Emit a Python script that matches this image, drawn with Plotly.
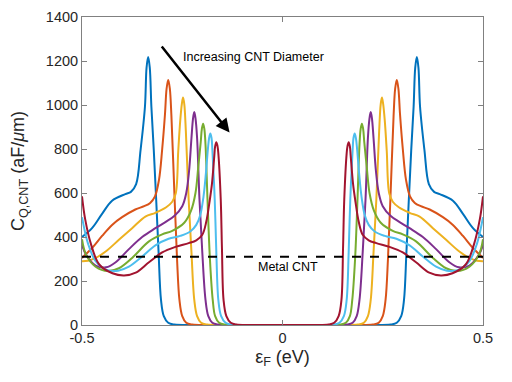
import plotly.graph_objects as go

# Positive-energy half of each curve (chart is symmetric about eF = 0)
names = ["d1", "d2", "d3", "d4", "d5", "d6", "d7"]
colors = ["#0072BD", "#D95319", "#EDB120", "#7E2F8E", "#77AC30", "#4DBEEE", "#A2142F"]

blue_x = [0, 0.20, 0.270, 0.285, 0.296, 0.303, 0.309, 0.315, 0.321, 0.327, 0.331, 0.335, 0.339, 0.343, 0.354, 0.365, 0.378, 0.392, 0.425, 0.450, 0.475, 0.5]
blue_y = [0, 0, 2, 10, 40, 114, 330, 569, 795, 993, 1170, 1218, 1170, 993, 795, 640, 605, 595, 565, 505, 440, 400]

orange_x = [0, 0.18, 0.225, 0.240, 0.250, 0.257, 0.263, 0.269, 0.277, 0.281, 0.285, 0.289, 0.293, 0.300, 0.308, 0.318, 0.330, 0.345, 0.367, 0.400, 0.425, 0.450, 0.475, 0.5]
orange_y = [0, 0, 2, 10, 40, 114, 300, 569, 950, 1075, 1114, 1075, 960, 800, 660, 585, 555, 540, 525, 490, 455, 405, 350, 305]

yellow_x = [0, 0.14, 0.188, 0.203, 0.213, 0.220, 0.227, 0.234, 0.241, 0.245, 0.248, 0.251, 0.255, 0.260, 0.266, 0.275, 0.290, 0.317, 0.342, 0.375, 0.408, 0.441, 0.466, 0.485, 0.5]
yellow_y = [0, 0, 2, 10, 40, 114, 330, 569, 880, 1005, 1034, 1005, 930, 790, 600, 560, 535, 510, 493, 440, 387, 334, 305, 292, 290]

purple_x = [0, 0.12, 0.160, 0.175, 0.185, 0.192, 0.200, 0.207, 0.213, 0.217, 0.220, 0.223, 0.227, 0.233, 0.240, 0.250, 0.270, 0.292, 0.317, 0.350, 0.383, 0.416, 0.440, 0.466, 0.490, 0.5]
purple_y = [0, 0, 2, 10, 40, 114, 330, 569, 850, 940, 968, 940, 850, 700, 600, 540, 495, 468, 440, 400, 345, 285, 262, 270, 320, 365]

green_x = [0, 0.10, 0.143, 0.158, 0.168, 0.174, 0.181, 0.187, 0.192, 0.195, 0.198, 0.201, 0.204, 0.210, 0.217, 0.228, 0.245, 0.275, 0.300, 0.333, 0.375, 0.408, 0.435, 0.466, 0.490, 0.5]
green_y = [0, 0, 2, 10, 40, 114, 300, 569, 820, 893, 915, 893, 830, 720, 600, 520, 465, 428, 412, 380, 305, 258, 245, 265, 320, 390]

cyan_x = [0, 0.09, 0.128, 0.142, 0.153, 0.160, 0.165, 0.169, 0.175, 0.177, 0.180, 0.183, 0.186, 0.191, 0.197, 0.205, 0.215, 0.230, 0.255, 0.284, 0.317, 0.350, 0.383, 0.410, 0.440, 0.466, 0.485, 0.5]
cyan_y = [0, 0, 2, 10, 40, 114, 330, 569, 800, 850, 870, 850, 800, 690, 584, 500, 455, 425, 405, 392, 362, 311, 265, 247, 252, 290, 370, 490]

maroon_x = [0, 0.08, 0.115, 0.129, 0.140, 0.147, 0.151, 0.154, 0.160, 0.162, 0.165, 0.168, 0.170, 0.176, 0.182, 0.190, 0.200, 0.215, 0.234, 0.267, 0.300, 0.333, 0.366, 0.395, 0.424, 0.457, 0.478, 0.492, 0.5]
maroon_y = [0, 0, 2, 10, 40, 114, 350, 569, 780, 812, 831, 812, 770, 640, 560, 470, 410, 385, 372, 355, 330, 285, 238, 225, 235, 275, 370, 480, 585]

xs = [blue_x, orange_x, yellow_x, purple_x, green_x, cyan_x, maroon_x]
ys = [blue_y, orange_y, yellow_y, purple_y, green_y, cyan_y, maroon_y]

metal_level = 310
x_ticks = [-0.5, 0, 0.5]
x_tick_text = ["-0.5", "0", "0.5"]
y_ticks = [0, 200, 400, 600, 800, 1000, 1200, 1400]

fig = go.Figure()
for name, c, hx, hy in zip(names, colors, xs, ys):
    fx = [-v for v in reversed(hx)] + hx[1:]
    fy = list(reversed(hy)) + hy[1:]
    fig.add_trace(go.Scatter(x=fx, y=fy, mode="lines", name=name,
                             line=dict(color=c, width=2, shape="spline", smoothing=1.0)))

fig.add_trace(go.Scatter(x=[-0.5, 0.5], y=[metal_level, metal_level], mode="lines",
                         line=dict(color="black", width=2, dash="dash")))

font_family = "Liberation Sans, Arial, sans-serif"
fig.add_annotation(x=-0.132, y=875, ax=-0.304, ay=1273, xref="x", yref="y", axref="x", ayref="y",
                   text="", showarrow=True, arrowhead=2, arrowsize=1.1, arrowwidth=2.5, arrowcolor="black")
fig.add_annotation(x=-0.254, y=1217, xref="x", yref="y", text="Increasing CNT Diameter",
                   showarrow=False, xanchor="left", yanchor="middle",
                   font=dict(family=font_family, size=12.5, color="black"))
fig.add_annotation(x=-0.067, y=264, xref="x", yref="y", text="Metal CNT",
                   showarrow=False, xanchor="left", yanchor="middle",
                   font=dict(family=font_family, size=12.5, color="black"))

axis_common = dict(showline=True, linecolor="#808080", linewidth=1, mirror="ticks",
                   ticks="inside", ticklen=5, tickcolor="#808080", showgrid=False, zeroline=False,
                   automargin=False,
                   tickfont=dict(family=font_family, size=14.5, color="#262626"))

# page body has an 8px default margin, so the figure is sized to fit inside the window
fig.update_layout(
    width=504, height=374,
    margin=dict(l=74, r=29, t=9, b=57),
    paper_bgcolor="white", plot_bgcolor="white",
    showlegend=False,
    font=dict(family=font_family),
    xaxis=dict(range=[-0.5, 0.5], tickvals=x_ticks, ticktext=x_tick_text,
               title=dict(text="ε<sub>F</sub> (eV)", standoff=4,
                          font=dict(family=font_family, size=18, color="#262626")),
               **axis_common),
    yaxis=dict(range=[0, 1400], tickvals=y_ticks,
               title=dict(text="C<sub>Q,CNT</sub> (aF/<i>μ</i>m)", standoff=22,
                          font=dict(family=font_family, size=18, color="#262626")),
               **axis_common),
)

fig.write_html("out.html")
